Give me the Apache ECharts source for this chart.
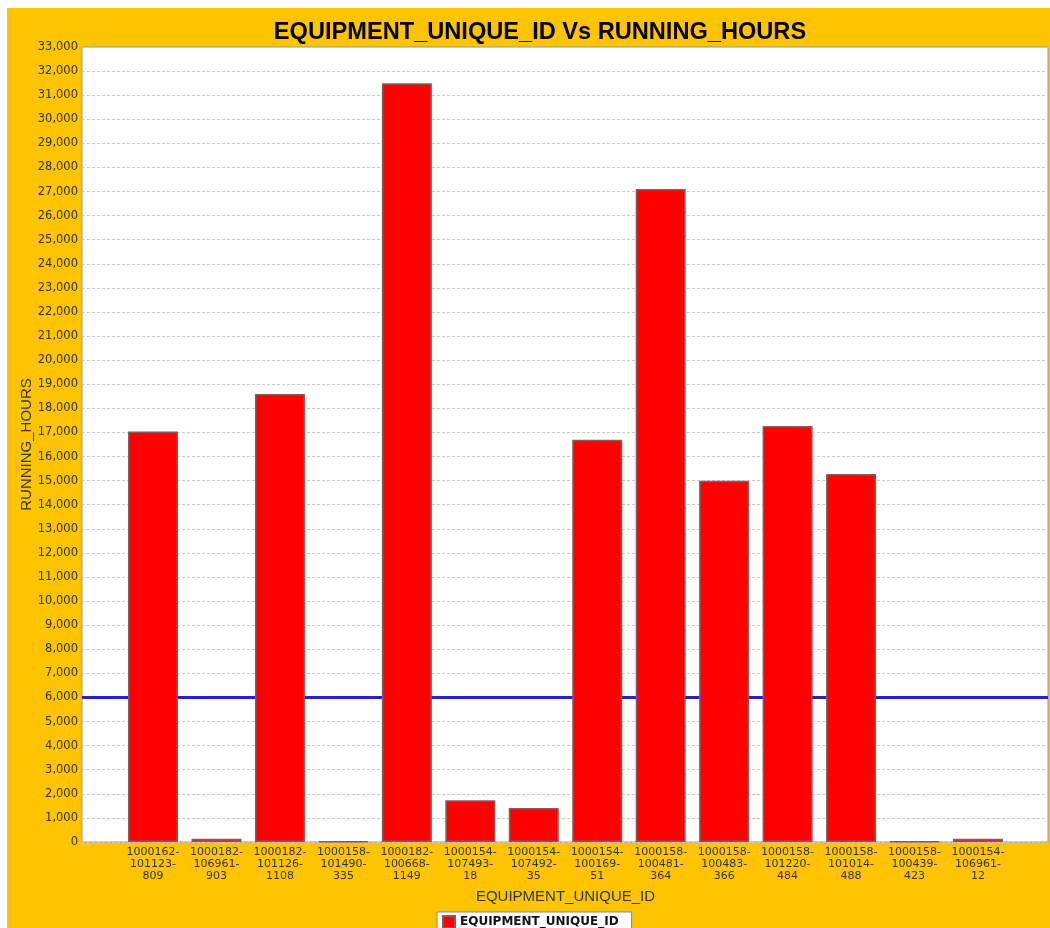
<!DOCTYPE html>
<html>
<head>
<meta charset="utf-8">
<style>
html,body{margin:0;padding:0;background:#fff;}
#c{width:1050px;height:928px;}
</style>
<script src="https://cdn.jsdelivr.net/npm/echarts@6/dist/echarts.min.js"></script>
</head>
<body>
<div id="c"></div>
<script>
const categories = [
  '1000162-101123-809', '1000182-106961-903', '1000182-101126-1108', '1000158-101490-335',
  '1000182-100668-1149', '1000154-107493-18', '1000154-107492-35', '1000154-100169-51',
  '1000158-100481-364', '1000158-100483-366', '1000158-101220-484', '1000158-101014-488',
  '1000158-100439-423', '1000154-106961-12'
];
const runningHours = [17040, 140, 18600, 20, 31500, 1730, 1410, 16700, 27110, 15000, 17270, 15280, 20, 140];
const thresholdHours = 6000;
const yMin = 0, yMax = 33000, yStep = 1000;

const chart = echarts.init(document.getElementById('c'));
const labelFont = 'DejaVu Sans';
chart.setOption({
  backgroundColor: '#ffffff',
  animation: false,
  graphic: [{
    type: 'rect', z: -100, silent: true,
    shape: { x: 7, y: 8, width: 1043, height: 920 },
    style: { fill: '#FFC400' }
  }],
  title: {
    text: 'EQUIPMENT_UNIQUE_ID Vs RUNNING_HOURS',
    left: 535, top: 15, textAlign: 'center',
    textStyle: { fontFamily: 'Liberation Sans', fontWeight: 'bold', fontSize: 23.6, color: '#000' }
  },
  legend: {
    data: ['EQUIPMENT_UNIQUE_ID'],
    left: 437, top: 912,
    backgroundColor: '#fff', borderColor: '#888', borderWidth: 1,
    padding: [3, 13, 3, 5],
    icon: 'rect', itemWidth: 12, itemHeight: 12, itemGap: 5,
    textStyle: { fontFamily: labelFont, fontWeight: 'bold', fontSize: 12, color: '#111' }
  },
  grid: [
    { left: 82, right: 2, top: 47, bottom: 86, show: true, backgroundColor: '#fff', borderColor: '#999', borderWidth: 1 },
    { left: 121.3, right: 40.3, top: 47, bottom: 86 }
  ],
  xAxis: [
    { type: 'value', gridIndex: 0, min: 0, max: 1, show: false },
    {
      type: 'category', gridIndex: 1, data: categories,
      name: 'EQUIPMENT_UNIQUE_ID', nameLocation: 'middle', nameGap: 47,
      nameTextStyle: { fontFamily: 'Liberation Sans', fontSize: 15, color: '#333' },
      axisLine: { show: false }, axisTick: { show: false },
      axisLabel: {
        interval: 0, margin: 4, fontFamily: labelFont, fontSize: 11, lineHeight: 12, color: '#333',
        formatter: v => v.replace(/-/g, '-\n')
      }
    }
  ],
  yAxis: [
    {
      type: 'value', gridIndex: 0, min: yMin, max: yMax, interval: yStep,
      name: 'RUNNING_HOURS', nameLocation: 'middle', nameGap: 48, nameMoveOverlap: false,
      nameTextStyle: { fontFamily: 'Liberation Sans', fontSize: 15, color: '#333' },
      axisLine: { show: false }, axisTick: { show: false },
      axisLabel: {
        margin: 4, fontFamily: labelFont, fontSize: 11.5, color: '#333',
        formatter: v => v.toLocaleString('en-US')
      },
      splitLine: { show: true, lineStyle: { color: '#c8c8c8', type: [3, 2], width: 1 } }
    },
    { type: 'value', gridIndex: 1, min: yMin, max: yMax, interval: yStep, show: false, splitLine: { show: false } }
  ],
  series: [
    {
      type: 'line', xAxisIndex: 0, yAxisIndex: 0, data: [], z: 1, silent: true,
      markLine: {
        z: 1, symbol: 'none', silent: true, label: { show: false },
        lineStyle: { color: '#2323c8', width: 3, type: 'solid' },
        data: [{ yAxis: thresholdHours }]
      }
    },
    {
      name: 'EQUIPMENT_UNIQUE_ID', type: 'bar', xAxisIndex: 1, yAxisIndex: 1, z: 3,
      data: runningHours, barWidth: 50,
      itemStyle: { color: '#FF0000', borderColor: '#8a5a5a', borderWidth: 1.5 }
    }
  ]
});
</script>
</body>
</html>
